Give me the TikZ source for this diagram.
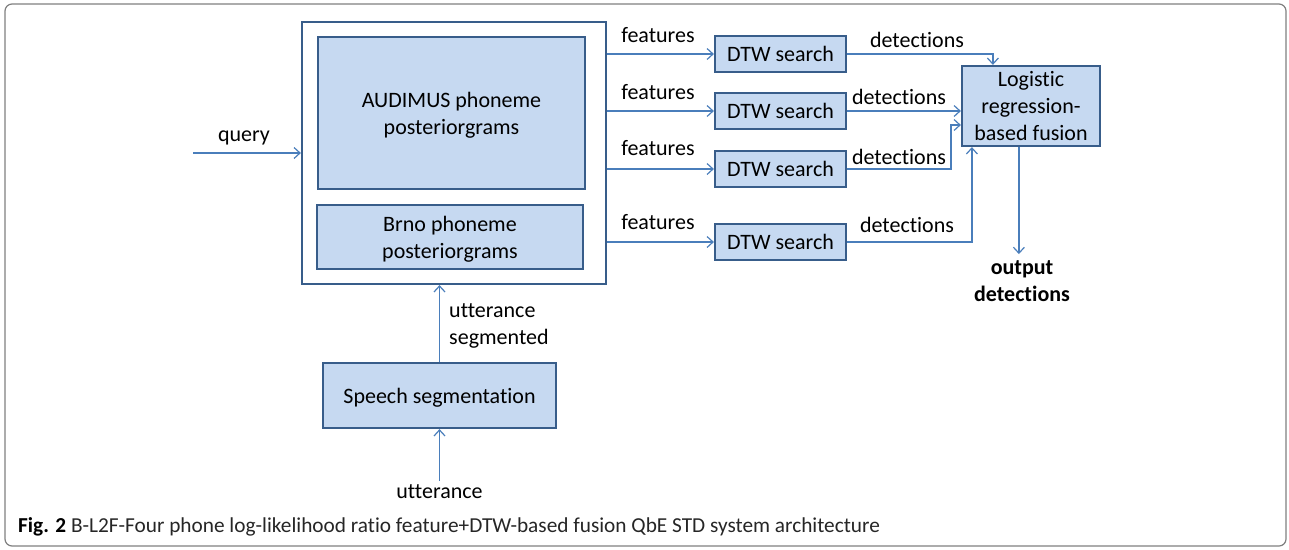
\documentclass[tikz,border=0pt]{standalone}
\usepackage{fontspec}
\setmainfont{Carlito}[Ligatures=NoCommon]
\usetikzlibrary{arrows.meta,calc}
\definecolor{boxfill}{HTML}{C6D9F1}
\definecolor{boxline}{HTML}{385D8A}
\definecolor{arrline}{HTML}{4A7EBB}
\definecolor{frameline}{HTML}{7F7F7F}
\definecolor{captext}{HTML}{262626}
\tikzset{
  blk/.style={draw=boxline, line width=2.2pt, fill=boxfill, align=center,
    inner sep=0pt, text depth=0pt, font=\fontsize{22}{27}\selectfont},
  arr/.style={draw=arrline, line width=1.4pt,
    -{Straight Barb[length=6pt,width=11pt,line width=1.2pt]}},
  lbl/.style={font=\fontsize{22}{27}\selectfont, inner sep=0pt, text depth=0pt, align=center},
}
\begin{document}
\begin{tikzpicture}[x=1pt,y=-1pt]
\useasboundingbox (0,0) rectangle (1289,549);
% surrounding frame
\draw[frameline, line width=1.2pt, rounded corners=7pt] (5,4) rectangle (1286,546);

% feature extraction block
\node[draw=boxline, line width=2.2pt, fill=white, minimum width=304pt, minimum height=262pt, inner sep=0pt] (outer) at (454,153) {};
\node[blk, minimum width=267pt, minimum height=152pt] (aud) at (451.5,113) {AUDIMUS phoneme\\posteriorgrams};
\node[blk, minimum width=266pt, minimum height=64pt] (brno) at (450,237) {Brno phoneme\\posteriorgrams};

% DTW search blocks
\node[blk, minimum width=131pt, minimum height=36pt] (dtw1) at (780.5,54) {DTW search};
\node[blk, minimum width=131pt, minimum height=36pt] (dtw2) at (780.5,111) {DTW search};
\node[blk, minimum width=131pt, minimum height=36pt] (dtw3) at (780.5,169) {DTW search};
\node[blk, minimum width=131pt, minimum height=36pt] (dtw4) at (780.5,242) {DTW search};

% fusion block
\node[blk, minimum width=138pt, minimum height=80pt] (fus) at (1031,106) {Logistic\\regression-\\based fusion};

% speech segmentation
\node[blk, minimum width=233pt, minimum height=65pt] (seg) at (439.5,395.5) {Speech segmentation};

% query input
\coordinate (q) at (193,153);
\draw[arr] (q) -- (outer.west);
\node[lbl] (ql) at (244,136) {query};

% features
\foreach \i/\y in {1/35,2/92,3/148,4/222}{
  \draw[arr] (outer.east |- dtw\i.west) -- (dtw\i.west);
  \node[lbl] (f\i) at (658,\y) {features};
}

% detections to fusion
\coordinate (j1) at ($(fus.north west)+(32,0)$);
\draw[arr] (dtw1.east) -| (j1);
\draw[arr] (dtw2.east) -- (fus.west |- dtw2.east);
\coordinate (j3) at (951,125);
\draw[arr] (dtw3.east) -| (j3) -- (fus.west |- j3);
\coordinate (j4) at ($(fus.south west)+(11,0)$);
\draw[arr] (dtw4.east) -| (j4);
\node[lbl] (d1) at (917,40) {detections};
\node[lbl] (d2) at (899,97) {detections};
\node[lbl] (d3) at (899,157) {detections};
\node[lbl] (d4) at (907,225) {detections};

% output
\coordinate (o1) at ($(fus.south west)+(58,0)$);
\coordinate (o2) at ($(o1)+(0,107)$);
\draw[arr] (o1) -- (o2);
\node[lbl, font=\fontsize{22}{27}\selectfont\bfseries] (out) at (1022,281) {output\\detections};

% segmentation path
\draw[arr] (seg.north) -- (seg.north |- outer.south);
\node[lbl, anchor=west, align=left] (us) at (449,324) {utterance\\segmented};
\node[lbl] (utt) at (439.5,492) {utterance};
\draw[arr] ($(utt.north)+(0,-4)$) -- (seg.south);

% caption
\node[anchor=base west, inner sep=0pt, text=captext, font=\fontsize{21.3}{24}\selectfont] (cap) at (18,532)
  {\textbf{\color{black}Fig. 2} B-L2F-Four phone log-likelihood ratio feature+DTW-based fusion QbE STD system architecture};
\end{tikzpicture}
\end{document}
